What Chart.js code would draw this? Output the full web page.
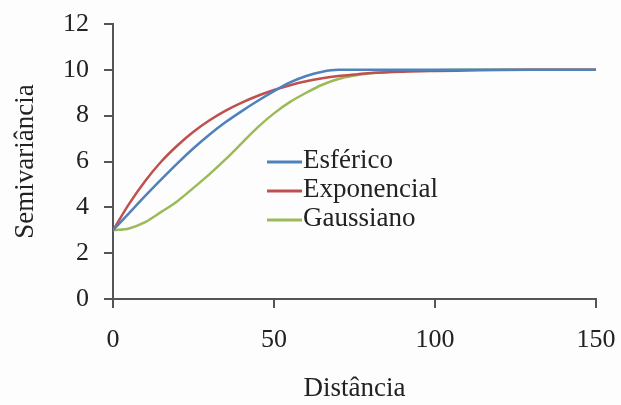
<!DOCTYPE html>
<html>
<head>
<meta charset="utf-8">
<script src="https://cdn.jsdelivr.net/npm/chart.js@4"></script>
<style>
  html, body { margin: 0; padding: 0; background: #fdfdfd; }
  #wrap { width: 621px; height: 405px; position: relative; }
</style>
</head>
<body>
<div id="wrap"><canvas id="semivar" width="621" height="405"></canvas></div>
<script>
// ── Dados ────────────────────────────────────────────────────
const distancias  = [0, 5, 10, 15, 20, 25, 30, 35, 40, 45, 50, 55, 60, 65, 70, 75, 80, 90, 100, 110, 120, 130, 140, 150];
const esferico    = [3, 3.75, 4.5, 5.22, 5.92, 6.58, 7.18, 7.72, 8.2, 8.65, 9.07, 9.45, 9.73, 9.92, 10, 10, 10, 10, 10, 10, 10, 10, 10, 10];
const exponencial = [3, 4.15, 5.15, 6.0, 6.7, 7.3, 7.8, 8.22, 8.57, 8.87, 9.12, 9.33, 9.5, 9.63, 9.73, 9.8, 9.86, 9.92, 9.95, 9.97, 9.99, 10, 10, 10];
const gaussiano   = [3, 3.08, 3.35, 3.8, 4.27, 4.85, 5.45, 6.1, 6.8, 7.5, 8.1, 8.6, 9.0, 9.35, 9.6, 9.75, 9.85, 9.94, 9.98, 10, 10, 10, 10, 10];

const SERIES = [
  { name: 'Esférico',    color: '#4F81BD', values: esferico },
  { name: 'Exponencial', color: '#C0504D', values: exponencial },
  { name: 'Gaussiano',   color: '#9BBB59', values: gaussiano },
];

const FONT = '"Liberation Serif", "Times New Roman", serif';
const AXIS = '#555555';
const TEXT = '#222222';

// ── Legenda dentro da área do gráfico ────────────────────────
const legendaInterna = {
  id: 'legendaInterna',
  afterDraw(chart) {
    const ctx = chart.ctx;
    ctx.save();
    ctx.font = '27px ' + FONT;
    ctx.fillStyle = TEXT;
    ctx.textBaseline = 'middle';
    chart.data.datasets.forEach((ds, i) => {
      const y = 162 + i * 29;
      ctx.strokeStyle = ds.borderColor;
      ctx.lineWidth = 3;
      ctx.beginPath();
      ctx.moveTo(267, y);
      ctx.lineTo(302, y);
      ctx.stroke();
      ctx.fillText(ds.label, 303, y - 1);
    });
    ctx.restore();
  }
};

new Chart(document.getElementById('semivar'), {
  type: 'scatter',
  data: {
    datasets: SERIES.map(s => ({
      label: s.name,
      data: distancias.map((d, i) => ({ x: d, y: s.values[i] })),
      showLine: true,
      borderColor: s.color,
      backgroundColor: s.color,
      borderWidth: 2.5,
      pointRadius: 0,
      cubicInterpolationMode: 'monotone',
    })),
  },
  options: {
    responsive: false,
    animation: false,
    layout: { padding: 0 },
    plugins: { legend: { display: false }, tooltip: { enabled: false } },
    scales: {
      x: {
        type: 'linear', min: 0, max: 150,
        afterFit(scale) { scale.height = 106; scale.paddingLeft = 0; scale.paddingRight = 25; },
        ticks: { stepSize: 50, color: TEXT, font: { family: FONT, size: 26 }, padding: 17, maxRotation: 0 },
        grid: { drawOnChartArea: false, drawTicks: true, tickLength: 9, color: AXIS, lineWidth: 2 },
        border: { color: AXIS, width: 2 },
        title: { display: true, text: 'Distância', color: TEXT, font: { family: FONT, size: 27 }, padding: { bottom: 0 } },
      },
      y: {
        min: 0, max: 12,
        afterFit(scale) { scale.width = 113; scale.paddingTop = 24; scale.paddingBottom = 0; },
        ticks: { stepSize: 2, color: TEXT, font: { family: FONT, size: 26 }, padding: 15 },
        grid: { drawOnChartArea: false, drawTicks: true, tickLength: 9, color: AXIS, lineWidth: 2 },
        border: { color: AXIS, width: 2 },
        title: { display: true, text: 'Semivariância', color: TEXT, font: { family: FONT, size: 27 }, padding: { top: 10 } },
      },
    },
  },
  plugins: [legendaInterna],
});
</script>
</body>
</html>
